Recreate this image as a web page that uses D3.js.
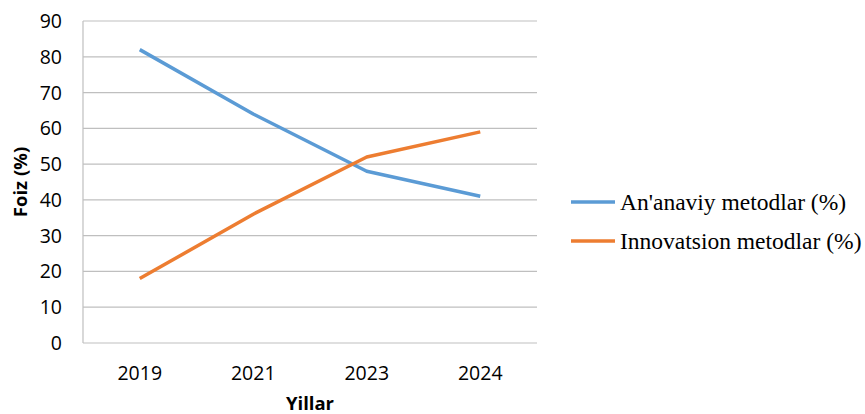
<!DOCTYPE html>
<html>
<head>
<meta charset="utf-8">
<script src="https://cdn.jsdelivr.net/npm/d3@7"></script>
<style>
  body { margin: 0; background: #fff; }
  svg { display: block; }
</style>
</head>
<body>
<div id="chart"></div>
<script>
// data
var years = ["2019", "2021", "2023", "2024"];
var ananaviy = [82, 64, 48, 41];
var innovatsion = [18, 36, 52, 59];
var yTicks = [0, 10, 20, 30, 40, 50, 60, 70, 80, 90];
var seriesNames = ["An'anaviy metodlar (%)", "Innovatsion metodlar (%)"];
var seriesColors = ["#5B9BD5", "#ED7D31"];

var width = 865, height = 414;
var plotLeft = 83, plotRight = 537, plotTop = 21, plotBottom = 343;

var svg = d3.select("#chart").append("svg")
    .attr("width", width)
    .attr("height", height);

var x = d3.scalePoint().domain(years).range([plotLeft, plotRight]).padding(0.5);
var y = d3.scaleLinear().domain([0, 90]).range([plotBottom, plotTop]);

// grid lines
svg.append("g")
    .selectAll("line")
    .data(yTicks)
    .enter().append("line")
    .attr("x1", plotLeft)
    .attr("x2", plotRight)
    .attr("y1", function(d){ return y(d); })
    .attr("y2", function(d){ return y(d); })
    .style("stroke", "#bfbfbf")
    .style("stroke-width", 1.2);

// left axis line
svg.append("line")
    .attr("x1", plotLeft).attr("x2", plotLeft)
    .attr("y1", plotTop).attr("y2", plotBottom)
    .style("stroke", "#bfbfbf")
    .style("stroke-width", 1.2);

// y tick labels
svg.append("g")
    .selectAll("text")
    .data(yTicks)
    .enter().append("text")
    .attr("x", 62)
    .attr("y", function(d){ return y(d); })
    .attr("dy", "0.36em")
    .attr("text-anchor", "end")
    .style("font-family", "'Open Sans', sans-serif")
    .style("font-size", "19.5px")
    .style("fill", "#000")
    .text(function(d){ return d; });

// x tick labels
svg.append("g")
    .selectAll("text")
    .data(years)
    .enter().append("text")
    .attr("x", function(d){ return x(d); })
    .attr("y", 380)
    .attr("text-anchor", "middle")
    .style("font-family", "'Open Sans', sans-serif")
    .style("font-size", "19.5px")
    .style("fill", "#000")
    .text(function(d){ return d; });

// axis titles
svg.append("text")
    .attr("x", (plotLeft + plotRight) / 2)
    .attr("y", 410)
    .attr("text-anchor", "middle")
    .style("font-family", "'Open Sans', sans-serif")
    .style("font-weight", "bold")
    .style("font-size", "18.5px")
    .text("Yillar");

svg.append("text")
    .attr("transform", "translate(27," + ((plotTop + plotBottom) / 2) + ") rotate(-90)")
    .attr("text-anchor", "middle")
    .style("font-family", "'Open Sans', sans-serif")
    .style("font-weight", "bold")
    .style("font-size", "18.5px")
    .text("Foiz (%)");

// lines
var line = d3.line()
    .x(function(d, i){ return x(years[i]); })
    .y(function(d){ return y(d); });

[ananaviy, innovatsion].forEach(function(vals, i){
    svg.append("path")
        .datum(vals)
        .attr("d", line)
        .style("fill", "none")
        .style("stroke", seriesColors[i])
        .style("stroke-width", 3.5)
        .style("stroke-linejoin", "round");
});

// legend
var legend = svg.append("g");
seriesNames.forEach(function(name, i){
    var ly = 202 + i * 39;
    legend.append("line")
        .attr("x1", 571).attr("x2", 615)
        .attr("y1", ly).attr("y2", ly)
        .style("stroke", seriesColors[i])
        .style("stroke-width", 3.5);
    legend.append("text")
        .attr("x", 620)
        .attr("y", ly)
        .attr("dy", "0.33em")
        .style("font-family", "'Liberation Serif', 'Times New Roman', serif")
        .style("font-size", "23.5px")
        .style("fill", "#000")
        .text(name);
});
</script>
</body>
</html>
